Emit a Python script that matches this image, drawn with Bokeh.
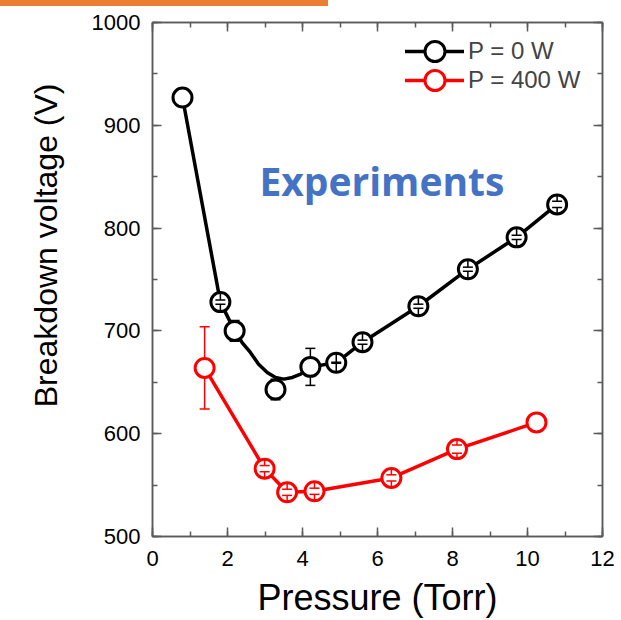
import math
import numpy as np
from bokeh.plotting import figure
from bokeh.layouts import column
from bokeh.models import (Range1d, LinearAxis, SingleIntervalTicker, Legend, LegendItem,
                          Label, Title, Div, CustomJSTickFormatter)
from bokeh.embed import file_html
from bokeh.resources import INLINE

# ---------------- data ----------------
p0_pressure = [0.8, 1.81, 2.19, 3.28, 4.21, 4.9, 5.6, 7.09, 8.41, 9.71, 10.79]
p0_voltage = [927, 728, 700, 643, 665, 669, 689, 724, 760, 791, 823]
p0_error = [np.nan, 2, 10, 10, 18, 0.5, 2, 2, 2, 2, 3]

# smooth guide curve drawn through the P = 0 W data
p0_fit_pressure = [0.8, 1.81, 2.19, 2.39, 2.61, 2.83, 3.06, 3.28, 3.50, 3.73, 3.95, 4.21,
                   4.9, 5.6, 7.09, 8.41, 9.71, 10.79]
p0_fit_voltage = [927, 728, 700, 688.7, 679, 667.6, 659.6, 654.7, 653.1, 654.7, 658, 665,
                  669, 689, 724, 760, 791, 823]

p400_pressure = [1.39, 2.99, 3.59, 4.32, 6.37, 8.12, 10.24]
p400_voltage = [664, 566, 543, 544, 557, 585, 611]
p400_error = [40, 3, 3, 3, 3, 4, np.nan]

series_labels = ["P = 0 W", "P = 400 W"]
x_label = "Pressure (Torr)"
y_label = "Breakdown voltage (V)"
annotation_text = "Experiments"

# ---------------- style ----------------
FONT = "Liberation Sans"
AX = "#5a5a5a"
BLACK = "#000000"
RED = "#ff0000"
BLUE = "#4472c4"
ORANGE = "#ed7d31"
MARKER_SIZE = 19
MARKER_R = 9.7  # marker radius expressed in y-data units (for Origin-like error bars)

p = figure(width=621, height=614, output_backend="svg", toolbar_location=None,
           x_range=Range1d(0, 12), y_range=Range1d(500, 1000),
           min_border_left=152, min_border_right=19, min_border_top=16, min_border_bottom=82,
           background_fill_color="white", border_fill_color="white")
p.outline_line_color = AX
p.outline_line_width = 1.5
p.xgrid.visible = False
p.ygrid.visible = False

empty_fmt = CustomJSTickFormatter(code="return ''")


def style_axis(ax, show_labels):
    ax.axis_line_color = AX
    ax.axis_line_width = 1.5
    ax.major_tick_line_color = AX
    ax.minor_tick_line_color = AX
    ax.major_tick_line_width = 1.5
    ax.minor_tick_line_width = 1.5
    ax.major_tick_in = 9
    ax.major_tick_out = 0
    ax.minor_tick_in = 5
    ax.minor_tick_out = 0
    ax.major_label_text_font = FONT
    ax.major_label_text_color = "black"
    ax.major_label_text_font_size = "22px"
    if not show_labels:
        ax.formatter = empty_fmt
        ax.major_label_standoff = 0


p.xaxis.ticker = SingleIntervalTicker(interval=2, num_minor_ticks=2)
p.yaxis.ticker = SingleIntervalTicker(interval=100, num_minor_ticks=2)
style_axis(p.xaxis[0], True)
style_axis(p.yaxis[0], True)
p.xaxis.major_label_standoff = 14
p.yaxis.major_label_standoff = 12
p.xaxis.axis_label = x_label
p.xaxis.axis_label_text_font = FONT
p.xaxis.axis_label_text_font_size = "36px"
p.xaxis.axis_label_text_font_style = "normal"
p.xaxis.axis_label_text_color = "black"
p.xaxis.axis_label_standoff = 8

top_ax = LinearAxis(ticker=SingleIntervalTicker(interval=2, num_minor_ticks=2))
right_ax = LinearAxis(ticker=SingleIntervalTicker(interval=100, num_minor_ticks=2))
style_axis(top_ax, False)
style_axis(right_ax, False)
p.add_layout(top_ax, "above")
p.add_layout(right_ax, "right")

# y axis title, placed like the reference (shifted toward the top)
p.add_layout(Title(text=y_label, align="right", offset=61, text_font=FONT,
                   text_font_size="32px", text_font_style="normal", text_color="black",
                   standoff=50), "left")


def err_parts(xs, ys, es):
    sx, sy0, sy1, cx, cy = [], [], [], [], []
    for x, y, e in zip(xs, ys, es):
        if e is None or (isinstance(e, float) and math.isnan(e)):
            continue
        for sgn in (1, -1):
            sx.append(x)
            sy0.append(y + sgn * e)
            sy1.append(y + sgn * MARKER_R)
            cx.append(x)
            cy.append(y + sgn * e)
    return sx, sy0, sy1, cx, cy


# black series
bl = p.line(p0_fit_pressure, p0_fit_voltage, line_color=BLACK, line_width=3.5,
            line_join="round", line_cap="round")
bc = p.scatter(p0_pressure, p0_voltage, marker="circle", size=MARKER_SIZE,
               fill_color="white", line_color=BLACK, line_width=3)
sx, sy0, sy1, cx, cy = err_parts(p0_pressure, p0_voltage, p0_error)
p.segment(sx, sy0, sx, sy1, line_color=BLACK, line_width=1.5)
p.scatter(cx, cy, marker="dash", size=10, line_color=BLACK, line_width=1.5)

# red series
rl = p.line(p400_pressure, p400_voltage, line_color=RED, line_width=3.5,
            line_join="round", line_cap="round")
rc = p.scatter(p400_pressure, p400_voltage, marker="circle", size=MARKER_SIZE,
               fill_color="white", line_color=RED, line_width=3)
sx, sy0, sy1, cx, cy = err_parts(p400_pressure, p400_voltage, p400_error)
p.segment(sx, sy0, sx, sy1, line_color=RED, line_width=1.5)
p.scatter(cx, cy, marker="dash", size=10, line_color=RED, line_width=1.5)


def make_legend(label, renderers, loc):
    return Legend(items=[LegendItem(label=label, renderers=renderers)],
                  location=loc, orientation="vertical",
                  glyph_width=59, glyph_height=50, label_height=50, spacing=0,
                  padding=0, margin=0, label_standoff=4,
                  label_text_font=FONT, label_text_font_size="24px",
                  background_fill_alpha=0, border_line_alpha=0)


p.add_layout(make_legend(series_labels[0], [bl, bc], (253, 460)))
p.add_layout(make_legend(series_labels[1], [rl, rc], (253, 431)))

p.add_layout(Label(x=2.85, y=846, text=annotation_text, text_font="Open Sans",
                   text_font_style="bold", text_font_size="39px", text_color=BLUE,
                   text_align="left", text_baseline="alphabetic"))

bar = Div(text="", width=328, height=6, margin=0,
          styles={"background-color": ORANGE})

layout = column(bar, p, spacing=0)
open("out.html", "w").write(file_html(layout, INLINE))
